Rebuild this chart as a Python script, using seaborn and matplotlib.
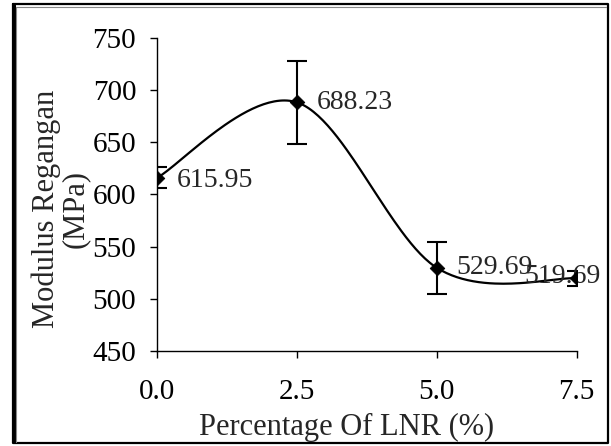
import numpy as np
import pandas as pd
import matplotlib
matplotlib.use("Agg")
import matplotlib.pyplot as plt
import seaborn as sns
from matplotlib.lines import Line2D

# data
lnr_pct = [0.0, 2.5, 5.0, 7.5]
modulus = [615.95, 688.23, 529.69, 519.69]
err = [10, 40, 25, 7]
labels = ["615.95", "688.23", "529.69", "519.69"]
x_ticks = [0.0, 2.5, 5.0, 7.5]
y_ticks = [450, 500, 550, 600, 650, 700, 750]


def smooth_curve(xs, ys, n=60):
    # Bezier smoothing similar to spreadsheet "smoothed line"
    pts = np.column_stack([xs, ys]).astype(float)
    out = []
    for i in range(len(pts) - 1):
        p0 = pts[max(i - 1, 0)]
        p1 = pts[i]
        p2 = pts[i + 1]
        p3 = pts[min(i + 2, len(pts) - 1)]
        c1 = p1 + (p2 - p0) / 6
        c2 = p2 - (p3 - p1) / 6
        t = np.linspace(0, 1, n)[:, None]
        seg = ((1 - t) ** 3) * p1 + 3 * ((1 - t) ** 2) * t * c1 + 3 * (1 - t) * t ** 2 * c2 + t ** 3 * p2
        out.append(seg if i == 0 else seg[1:])
    return np.vstack(out)


sns.set_style("ticks")
plt.rcParams["font.family"] = ["Liberation Serif", "DejaVu Serif"]
plt.rcParams["font.size"] = 21

fig = plt.figure(figsize=(6.11, 4.46), dpi=100)
ax = fig.add_axes([0.257, 0.213, 0.687, 0.702])

curve = smooth_curve(lnr_pct, modulus)
df_curve = pd.DataFrame({"x": curve[:, 0], "y": curve[:, 1]})
sns.lineplot(data=df_curve, x="x", y="y", ax=ax, color="black", linewidth=1.6,
             sort=False, estimator=None)

ax.errorbar(lnr_pct, modulus, yerr=err, fmt="none", ecolor="black",
            elinewidth=1.5, capsize=7, capthick=1.5, zorder=3)
sns.scatterplot(x=lnr_pct, y=modulus, ax=ax, marker="D", color="black",
                s=55, edgecolor="black", zorder=4)

# label offsets in points; the last one is pushed back left so it fits
offsets = [(14, -2), (14, 0), (14, 0), (17, 1)]
aligns = ["left", "left", "left", "right"]
for xv, yv, lab, off, ha in zip(lnr_pct, modulus, labels, offsets, aligns):
    ax.annotate(lab, (xv, yv), xytext=off, textcoords="offset points",
                va="center", ha=ha, fontsize=20, annotation_clip=False)

ax.set_xlim(0, 7.5)
ax.set_ylim(450, 750)
ax.set_xticks(x_ticks)
ax.set_xticklabels([f"{v:.1f}" for v in x_ticks])
ax.set_yticks(y_ticks)
ax.tick_params(axis="both", direction="out", length=5, width=1, colors="black",
               labelsize=21)
ax.tick_params(axis="y", pad=10)
ax.tick_params(axis="x", pad=15)
sns.despine(ax=ax)
for s in ["left", "bottom"]:
    ax.spines[s].set_color("black")
    ax.spines[s].set_linewidth(1)

ax.set_xlabel("Percentage Of LNR (%)", fontsize=22)
ax.xaxis.set_label_coords(0.452, -0.197)
ax.set_ylabel("Modulus Regangan\n(MPa)", fontsize=22, linespacing=1.0)
ax.yaxis.set_label_coords(-0.16, 0.455)

# outer frame around the chart
W, H = 611, 446
fx = lambda px: px / W
fy = lambda py: 1 - py / H
fig.add_artist(Line2D([fx(13), fx(608), fx(608), fx(13), fx(13)],
                      [fy(4), fy(4), fy(443), fy(443), fy(4)],
                      color="black", linewidth=1.6, transform=fig.transFigure))
fig.add_artist(Line2D([fx(13.5), fx(13.5)], [fy(5), fy(442)], color="black",
                      linewidth=2.2, transform=fig.transFigure))
fig.add_artist(Line2D([fx(16), fx(16), fx(606)], [fy(442), fy(7), fy(7)],
                      color="#888888", linewidth=0.8, transform=fig.transFigure))

fig.savefig("out.png", dpi=100)
